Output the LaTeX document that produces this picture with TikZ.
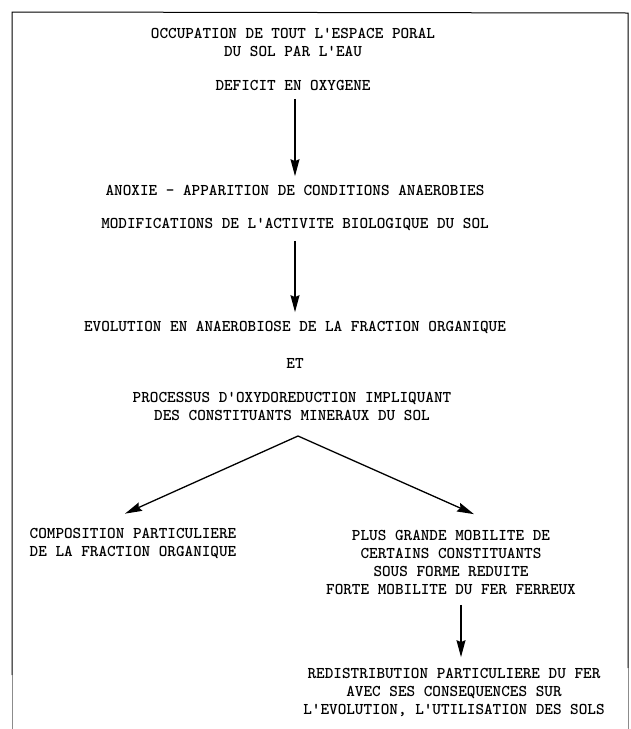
\documentclass[tikz,border=0pt]{standalone}
\usepackage{fontspec}
\setmonofont{lmmono10-regular.otf}[BoldFont=lmmonolt10-bold.otf]
\usetikzlibrary {positioning,arrows.meta}

\begin{document}
\begin{tikzpicture}[x=1pt ,y=-1pt ,node distance =1 cm and 2cm ,on grid ,
    line width =1.3pt ,
    txt/.style ={ inner sep =0pt , align =center ,
    font =\ttfamily\bfseries\fontsize{16.4}{18}\selectfont },
    flow/.style ={-{Stealth[length=17pt,width=9pt,inset=2pt]}}
    ]
\useasboundingbox (0,0) rectangle (631,729);

% cadre
\draw[line width =1pt] (12,675) -- (12,12) -- (628,13) -- (628,668);
\draw[line width =0.8pt, black!45] (12,675) -- (12,729) (628,668) -- (628,729);

\node[txt] (occ) at (293,42) {OCCUPATION DE TOUT L'ESPACE PORAL\\DU SOL PAR L'EAU};
\node[txt] (deficit) [below =43pt of occ] {DEFICIT EN OXYGENE};
\node[txt] (anoxie) [below right =105pt and 2pt of deficit] {ANOXIE - APPARITION DE CONDITIONS ANAEROBIES};
\node[txt] (modif) [below =34pt of anoxie] {MODIFICATIONS DE L'ACTIVITE BIOLOGIQUE DU SOL};
\node[txt] (evol) [below =103pt of modif] {EVOLUTION EN ANAEROBIOSE DE LA FRACTION ORGANIQUE};
\node[txt] (et) [below =36pt of evol] {ET};
\node[txt] (proc) [below left =43pt and 3pt of et] {PROCESSUS D'OXYDOREDUCTION IMPLIQUANT\\DES CONSTITUANTS MINERAUX DU SOL};
\coordinate[below right =30pt and 6pt of proc] (split);
\node[txt, align =left] (compo) [below left =137.5pt and 159pt of proc] {COMPOSITION PARTICULIERE\\DE LA FRACTION ORGANIQUE};
\node[txt] (plus) [below right =156pt and 159pt of proc] {PLUS GRANDE MOBILITE DE\\CERTAINS CONSTITUANTS\\SOUS FORME REDUITE\\FORTE MOBILITE DU FER FERREUX};
\node[txt] (redist) [below right =130pt and 3pt of plus] {REDISTRIBUTION PARTICULIERE DU FER\\AVEC SES CONSEQUENCES SUR\\L'EVOLUTION, L'UTILISATION DES SOLS};

\draw[flow] ([xshift=2pt,yshift=-8pt]deficit.south) -- ([yshift=8pt]anoxie.north);
\draw[flow] ([yshift=-10pt]modif.south) -- ([yshift=8pt]evol.north);
\draw[flow] (split) -- ([xshift=-8pt,yshift=14pt]compo.north);
\draw[flow] (split) -- ([xshift=23pt,yshift=15pt]plus.north);
\draw[flow] ([xshift=10pt,yshift=-10pt]plus.south) -- ([xshift=7pt,yshift=10pt]redist.north);
\end{tikzpicture}
\end{document}
